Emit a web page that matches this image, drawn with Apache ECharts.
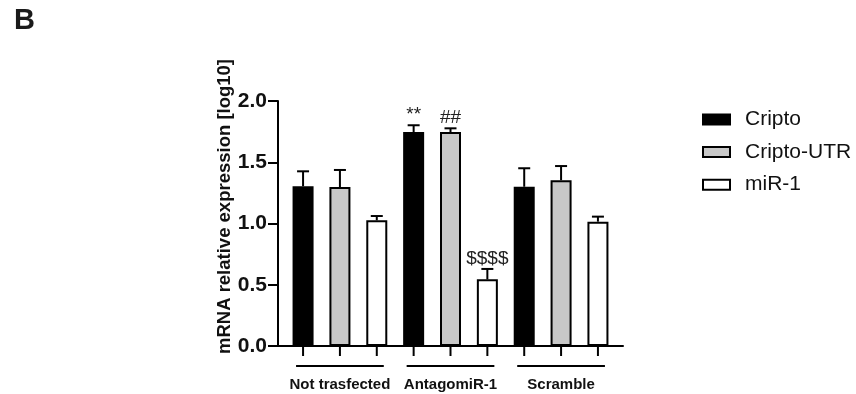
<!DOCTYPE html>
<html>
<head>
<meta charset="utf-8">
<script src="https://cdn.jsdelivr.net/npm/echarts@6/dist/echarts.min.js"></script>
<style>html,body{margin:0;padding:0;background:#fff}#c{width:856px;height:394px}</style>
</head>
<body>
<div id="c"></div>
<script>
// ---- data ----
var groups = ['Not trasfected', 'AntagomiR-1', 'Scramble'];
var seriesNames = ['Cripto', 'Cripto-UTR', 'miR-1'];
var cripto = [1.304, 1.747, 1.300];
var criptoErr = [0.122, 0.055, 0.151];
var criptoUTR = [1.298, 1.747, 1.353];
var criptoUTRErr = [0.139, 0.030, 0.116];
var mir1 = [1.026, 0.544, 1.015];
var mir1Err = [0.035, 0.085, 0.041];
var criptoMarks = ['', '**', ''];
var criptoUTRMarks = ['', '##', ''];
var mir1Marks = ['', '$$$$', ''];
var yTicks = [0, 0.5, 1.0, 1.5, 2.0];
var yTitle = 'mRNA relative expression [log10]';
var panelLabel = 'B';

// ---- build ----
var values = [cripto, criptoUTR, mir1];
var errs = [criptoErr, criptoUTRErr, mir1Err];
var marks = [criptoMarks, criptoUTRMarks, mir1Marks];
var fills = ['#000000', '#c8c8c8', '#ffffff'];
var nSer = seriesNames.length;
var nBars = groups.length * nSer;

var series = [];
seriesNames.forEach(function (name, s) {
  var barData = [], errData = [];
  groups.forEach(function (g, gi) {
    var x = gi * nSer + s;
    barData.push([x, values[s][gi]]);
    errData.push([x, values[s][gi], values[s][gi] + errs[s][gi], marks[s][gi]]);
  });
  series.push({
    name: name, type: 'bar', data: barData, barWidth: 21, barGap: '-100%',
    itemStyle: { color: fills[s], borderColor: '#000', borderWidth: 2 },
    z: 2
  });
  series.push({
    type: 'custom', data: errData, z: 3, silent: true,
    renderItem: function (params, api) {
      var x = api.value(0);
      var top = api.coord([x, api.value(1)]);
      var hi = api.coord([x, api.value(2)]);
      var half = 6;
      var children = [
        { type: 'line', shape: { x1: top[0], y1: top[1], x2: hi[0], y2: hi[1] }, style: { stroke: '#000', lineWidth: 2 } },
        { type: 'line', shape: { x1: hi[0] - half, y1: hi[1], x2: hi[0] + half, y2: hi[1] }, style: { stroke: '#000', lineWidth: 2 } }
      ];
      var txt = errData[params.dataIndex][3];
      if (txt) {
        children.push({ type: 'text', x: hi[0], y: hi[1] - 1,
          style: { text: txt, fill: '#222', font: '19px "Liberation Sans", Arial, sans-serif', align: 'center', verticalAlign: 'bottom' } });
      }
      return { type: 'group', children: children };
    }
  });
});

// x-axis decoration: ticks under each bar, group underlines and group labels
var groupData = groups.map(function (g, gi) { return [gi * nSer + (nSer - 1) / 2, 0, g]; });
series.push({
  type: 'custom', data: groupData, z: 3, silent: true,
  renderItem: function (params, api) {
    var gc = api.value(0);
    var base = api.coord([gc, 0]);
    var children = [];
    for (var k = 0; k < nSer; k++) {
      var p = api.coord([gc - (nSer - 1) / 2 + k, 0]);
      children.push({ type: 'line', shape: { x1: p[0], y1: base[1], x2: p[0], y2: base[1] + 10 }, style: { stroke: '#000', lineWidth: 2 } });
    }
    var l = api.coord([gc - 1.19, 0]), r = api.coord([gc + 1.19, 0]);
    children.push({ type: 'line', shape: { x1: l[0], y1: base[1] + 20, x2: r[0], y2: base[1] + 20 }, style: { stroke: '#000', lineWidth: 2 } });
    children.push({ type: 'text', x: base[0], y: base[1] + 39,
      style: { text: groupData[params.dataIndex][2], fill: '#111', font: 'bold 15px "Liberation Sans", Arial, sans-serif', align: 'center', verticalAlign: 'middle' } });
    return { type: 'group', children: children };
  }
});

var chart = echarts.init(document.getElementById('c'), null, { renderer: 'canvas' });
chart.setOption({
  animation: false,
  backgroundColor: '#fff',
  title: { text: panelLabel, left: 14, top: 6, padding: 0,
    textStyle: { fontSize: 29, fontWeight: 'bold', color: '#1a1a1a', fontFamily: '"Liberation Sans", Arial, sans-serif' } },
  legend: {
    data: seriesNames, orient: 'vertical', left: 702, top: 109, padding: 0, icon: 'rect',
    itemWidth: 27, itemHeight: 10, itemGap: 11.6,
    textStyle: { fontSize: 21, lineHeight: 20, color: '#111', fontFamily: '"Liberation Sans", Arial, sans-serif', padding: [0, 0, 0, 10] }
  },
  grid: { left: 278, right: 233, top: 101, bottom: 48 },
  xAxis: {
    type: 'value', min: -0.68, max: nBars - 1 + 0.68,
    axisLine: { show: true, onZero: false, lineStyle: { color: '#000', width: 2 } },
    axisTick: { show: false }, axisLabel: { show: false }, splitLine: { show: false }
  },
  yAxis: {
    type: 'value', min: yTicks[0], max: yTicks[yTicks.length - 1], interval: yTicks[1] - yTicks[0],
    name: yTitle, nameLocation: 'middle', nameGap: 42,
    nameTextStyle: { fontSize: 18.5, fontWeight: 'bold', color: '#111', fontFamily: '"Liberation Sans", Arial, sans-serif', padding: [0, 0, 0, 34] },
    axisLine: { show: true, onZero: false, lineStyle: { color: '#000', width: 2 } },
    axisTick: { show: true, length: 10, lineStyle: { color: '#000', width: 2 } },
    axisLabel: { margin: 11, fontSize: 21, fontWeight: 'bold', color: '#111', fontFamily: '"Liberation Sans", Arial, sans-serif',
      formatter: function (v) { return v.toFixed(1); } },
    splitLine: { show: false }
  },
  series: series
});
</script>
</body>
</html>
